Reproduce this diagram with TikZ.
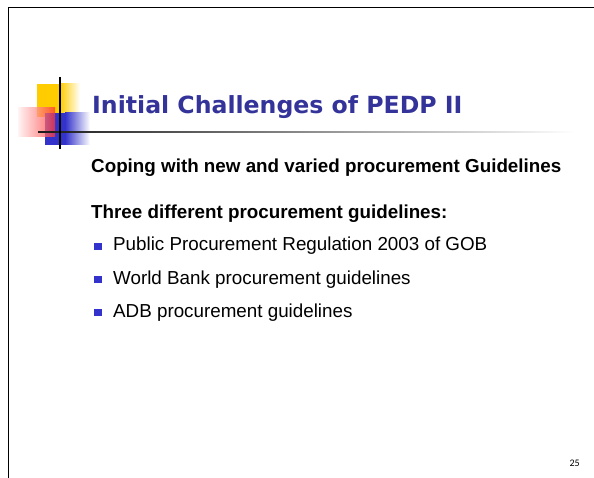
\documentclass[tikz,border=0pt]{standalone}
\usepackage{fontspec}
\setmainfont{Liberation Sans}
\newfontfamily\titlefont{DejaVu Sans}
\newfontfamily\numfont{Carlito}
\definecolor{slideblue}{HTML}{333399}
\definecolor{decoyellow}{HTML}{FFCC00}
\definecolor{decoblue}{HTML}{3333CC}
\definecolor{decored}{HTML}{FF3333}
\definecolor{bulletblue}{HTML}{3333CC}
\tikzset{
  headline/.style={anchor=base west,inner sep=0pt,font=\titlefont\bfseries\fontsize{23.6}{28}\selectfont,text=slideblue},
  subhead/.style={anchor=base west,inner sep=0pt,font=\bfseries\fontsize{18.8}{22}\selectfont},
  item/.style={anchor=base west,inner sep=0pt,font=\fontsize{18.8}{22}\selectfont},
  bullet/.style={fill=bulletblue,minimum size=7.5pt,inner sep=0pt}
}
\begin{document}
\begin{tikzpicture}[x=1pt,y=1pt]
        \useasboundingbox (0,0) rectangle (594,-478);
        %% Frame
        \draw[line width=1.6pt] (8.5,-480) -- (8.5,-7.5) -- (596,-7.5);
        %% Decoration squares
        \fill[decoyellow] (37,-84) rectangle (60,-117);
        \shade[left color=decoyellow,right color=white] (60,-84) rectangle (80,-117);
        \fill[decoblue] (45,-113) rectangle (65,-145);
        \shade[left color=decoblue,right color=white] (65,-113) rectangle (90,-145);
        \shade[left color=decored!8,right color=decored,opacity=0.75] (18,-108) rectangle (55,-137);
        %% Rules
        \shade[left color=black!90,right color=white] (38,-131.2) rectangle (575,-132.8);
        \draw[line width=1.5pt] (60,-77) -- (60,-149);
        %% Title
        \node[headline] (title) at (92,-114) {Initial Challenges of PEDP II};
        %% Text
        \node[subhead] (coping) at (91,-173) {Coping with new and varied procurement Guidelines};
        \node[subhead] (three) at (91,-219) {Three different procurement guidelines:};
        \node[item] (gob) at (113,-251) {Public Procurement Regulation 2003 of GOB};
        \node[item] (wb) at (113,-284) {World Bank procurement guidelines};
        \node[item] (adb) at (113,-317) {ADB procurement guidelines};
        \node[bullet] (b1) at (98,-246.5) {};
        \node[bullet] (b2) at (98,-279.5) {};
        \node[bullet] (b3) at (98,-312.5) {};
        %% Page number
        \node[anchor=base east,inner sep=0pt,font=\numfont\fontsize{10}{12}\selectfont] (page) at (580,-466) {25};
\end{tikzpicture}
\end{document}
